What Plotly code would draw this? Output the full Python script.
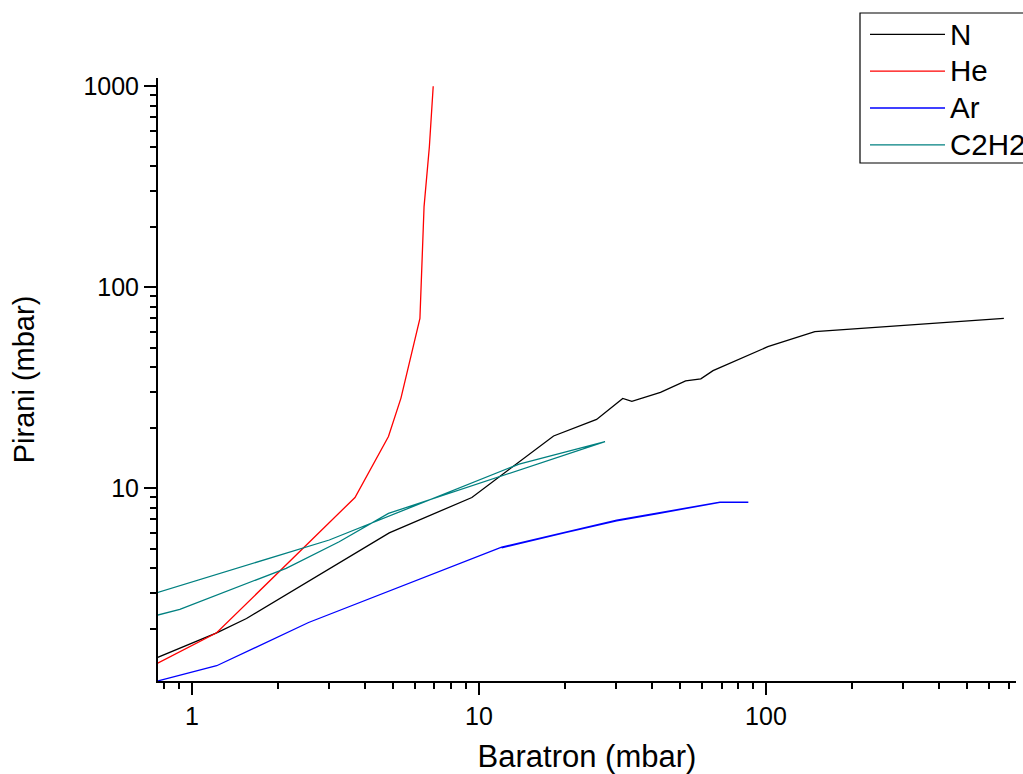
import plotly.graph_objects as go

# ---- data ----
n_x = [0.76, 1.22, 1.55, 4.87, 9.45, 18.2, 25.7, 31.7, 34.1, 42.9, 52.5, 59.3, 65.4, 101.5, 148, 674]
n_y = [1.44, 1.91, 2.25, 6.0, 9.0, 18.2, 22.0, 28.0, 27.1, 30.0, 34.2, 35.0, 38.5, 50.6, 60.1, 70.1]

he_x = [0.76, 1.22, 3.7, 4.84, 5.35, 6.23, 6.44, 6.72, 6.93]
he_y = [1.35, 1.91, 9.0, 18.1, 28.1, 70.0, 252, 500, 1000]

ar_x = [0.76, 1.22, 2.55, 12.0, 30.2, 41.6, 55.8, 69.1, 86.8, 69.1, 41.6, 30.2, 20.0, 12.0]
ar_y = [1.10, 1.31, 2.15, 5.09, 6.95, 7.51, 8.10, 8.52, 8.52, 8.52, 7.46, 6.88, 6.02, 5.05]

c2h2_x = [0.76, 0.908, 2.13, 3.26, 4.84, 27.5, 13.8, 3.01, 0.76]
c2h2_y = [2.34, 2.50, 4.0, 5.42, 7.5, 17.05, 13.2, 5.53, 3.03]

series_names = ["N", "He", "Ar", "C2H2"]
series_colors = ["#000000", "#FF0000", "#0000FF", "#008080"]

x_tickvals = [1, 10, 100]
x_ticktext = ["1", "10", "100"]
x_minor = [0.8, 0.9, 2, 3, 4, 5, 6, 7, 8, 9, 20, 30, 40, 50, 60, 70, 80, 90,
           200, 300, 400, 500, 600, 700]
y_tickvals = [10, 100, 1000]
y_ticktext = ["10", "100", "1000"]
y_minor = [2, 3, 4, 5, 6, 7, 8, 9, 20, 30, 40, 50, 60, 70, 80, 90,
           200, 300, 400, 500, 600, 700, 800, 900]

x_title = "Baratron (mbar)"
y_title = "Pirani (mbar)"

FONT = "Liberation Sans, Arial, sans-serif"

fig = go.Figure()
for name, xs, ys, col in zip(series_names, [n_x, he_x, ar_x, c2h2_x],
                             [n_y, he_y, ar_y, c2h2_y], series_colors):
    fig.add_trace(go.Scatter(
        x=xs, y=ys, mode="lines",
        name='<span style="font-size:29.5px">%s</span>' % name,
        line=dict(color=col, width=1.3)))

axis_common = dict(
    type="log", showgrid=False, zeroline=False,
    showline=True, linecolor="black", linewidth=2,
    ticks="outside", ticklen=12, tickwidth=2, tickcolor="black",
    tickfont=dict(family=FONT, size=25, color="black"),
)

fig.update_xaxes(
    range=[-0.118, 2.871],
    tickvals=x_tickvals, ticktext=x_ticktext,
    minor=dict(tickvals=x_minor, ticks="outside", ticklen=6, tickwidth=2,
               tickcolor="black", showgrid=False),
    title=dict(text=x_title, font=dict(family=FONT, size=31, color="black"), standoff=17),
    **axis_common,
)
fig.update_yaxes(
    range=[0.0413, 3.041],
    tickvals=y_tickvals, ticktext=y_ticktext,
    minor=dict(tickvals=y_minor, ticks="outside", ticklen=6, tickwidth=2,
               tickcolor="black", showgrid=False),
    title=dict(text=y_title, font=dict(family=FONT, size=29, color="black"), standoff=40),
    **axis_common,
)

# legend frame (the legend itself is drawn without a border)
fig.add_shape(type="rect", xref="paper", yref="paper",
              x0=(860 - 158) / 858, x1=1.03,
              y0=(681 - 163) / 603, y1=(681 - 13) / 603,
              line=dict(color="black", width=1.2), fillcolor="rgba(0,0,0,0)",
              layer="above")

fig.update_layout(
    width=1023, height=774,
    margin=dict(l=158, r=7, t=78, b=93, autoexpand=False),
    paper_bgcolor="white", plot_bgcolor="white",
    showlegend=True,
    legend=dict(x=(865 - 158) / 858, y=(681 - 11) / 603, xanchor="left", yanchor="top",
                borderwidth=0, bgcolor="rgba(0,0,0,0)",
                font=dict(family=FONT, size=26, color="black"),
                itemwidth=75, tracegroupgap=0),
)

fig.write_html("out.html")
